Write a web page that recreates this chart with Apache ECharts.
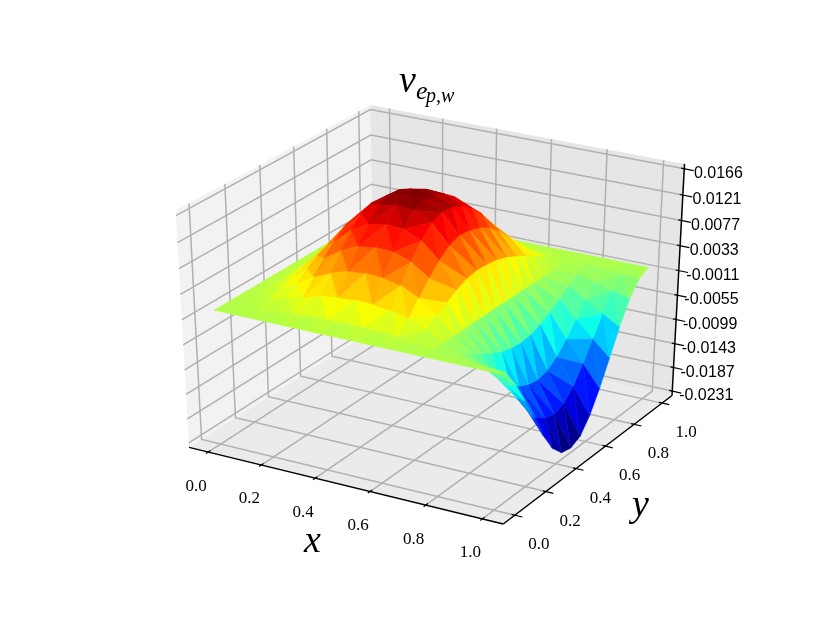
<!DOCTYPE html>
<html>
<head>
<meta charset="utf-8">
<title>v surface</title>
<script src="https://cdn.jsdelivr.net/npm/echarts@6/dist/echarts.min.js"></script>
<style>
html, body { margin: 0; padding: 0; background: #fff; }
#main { width: 830px; height: 623px; }
</style>
</head>
<body>
<div id="main"></div>
<script>
// mesh nodes, both directions
var meshX = [0, 0.0625, 0.125, 0.1875, 0.25, 0.3125, 0.375, 0.4375, 0.5, 0.5625, 0.625, 0.6875, 0.75, 0.8125, 0.875, 0.9375, 1];
var meshY = [0, 0.0625, 0.125, 0.1875, 0.25, 0.3125, 0.375, 0.4375, 0.5, 0.5625, 0.625, 0.6875, 0.75, 0.8125, 0.875, 0.9375, 1];

// surface height in units of 1e-4, one row per meshX
var zUnit = 1e-4;
var surfaceZ = [
    [0, 0, 0, 0, 0, 0, 0, 0, 0, 0, 0, 0, 0, 0, 0, 0, 0],
    [0, 1, 2, 5, 7, 8, 10, 10, 10, 9, 8, 7, 5, 3, 2, 0, 0],
    [0, 3, 9, 16, 23, 30, 34, 36, 35, 33, 30, 25, 19, 12, 6, 1, 0],
    [0, 5, 17, 32, 47, 59, 68, 72, 71, 67, 60, 50, 38, 24, 12, 3, 0],
    [0, 8, 26, 50, 72, 90, 105, 110, 108, 102, 92, 77, 58, 37, 18, 4, 0],
    [0, 10, 34, 63, 91, 115, 133, 140, 138, 130, 118, 98, 74, 48, 22, 6, 0],
    [0, 11, 38, 72, 104, 131, 152, 160, 158, 149, 134, 112, 85, 54, 26, 6, 0],
    [0, 12, 40, 75, 108, 136, 158, 166, 164, 154, 139, 116, 88, 56, 27, 7, 0],
    [0, 11, 39, 73, 106, 134, 155, 163, 161, 152, 137, 114, 86, 55, 26, 7, 0],
    [0, 10, 36, 67, 96, 121, 141, 148, 146, 138, 124, 104, 78, 50, 24, 6, 0],
    [0, 8, 28, 52, 75, 94, 109, 115, 113, 107, 97, 80, 61, 39, 18, 5, 0],
    [0, 4, 15, 28, 40, 51, 59, 62, 61, 58, 52, 43, 33, 21, 10, 2, 0],
    [0, 0, 0, 1, 1, 2, 2, 2, 2, 2, 2, 1, 1, 1, 0, 0, 0],
    [0, -3, -12, -23, -35, -46, -55, -60, -62, -60, -53, -43, -31, -19, -9, -2, 0],
    [0, -6, -23, -45, -68, -90, -109, -118, -122, -117, -104, -84, -61, -38, -18, -5, 0],
    [0, -9, -33, -65, -99, -130, -157, -171, -176, -169, -150, -121, -88, -55, -26, -7, 0],
    [0, -12, -44, -85, -129, -171, -206, -227, -231, -222, -196, -159, -116, -72, -34, -9, 0]
];

var xTicks = [0, 0.2, 0.4, 0.6, 0.8, 1];
var yTicks = [0, 0.2, 0.4, 0.6, 0.8, 1];
var zTicks = ['0.0166', '0.0121', '0.0077', '0.0033', '-0.0011', '-0.0055', '-0.0099', '-0.0143', '-0.0187', '-0.0231'];

var xLim = [-0.05, 1.05];
var yLim = [-0.05, 1.05];
var zLim = [-0.0231, 0.0166];
// panes stick out a little past the limits
var lo = -1 / 48;
var hi = 49 / 48;

var jetStops = [
    [0, [0, 0, 127]], [0.11, [0, 0, 255]], [0.125, [0, 0, 255]], [0.35, [0, 216, 255]], [0.375, [6, 255, 241]],
    [0.64, [246, 255, 0]], [0.66, [255, 246, 0]], [0.89, [255, 18, 0]], [0.91, [255, 0, 0]], [1, [127, 0, 0]]
];

function jet(t) {
    t = Math.min(1, Math.max(0, t));
    for (var i = 1; i < jetStops.length; i++) {
        if (t <= jetStops[i][0]) {
            var a = jetStops[i - 1], b = jetStops[i];
            var k = (t - a[0]) / (b[0] - a[0]);
            return 'rgb(' + [0, 1, 2].map(function (c) {
                return Math.round(a[1][c] + (b[1][c] - a[1][c]) * k);
            }).join(',') + ')';
        }
    }
    return 'rgb(127,0,0)';
}

// same view as elev 30, azim -60, dist 10
var SX = 3482, SY = 2594, CX = 434.4, CY = 307;
function wx(x) { return (x - xLim[0]) / (xLim[1] - xLim[0]); }
function wy(y) { return (y - yLim[0]) / (yLim[1] - yLim[0]); }
function wz(z) { return (z - zLim[0]) / (zLim[1] - zLim[0]); }
function depth(p) {
    return 0.4330127 * (p[0] - 0.5) - 0.75 * (p[1] - 0.5) + 0.5 * (p[2] - 0.5);
}
function project(p) {
    var X = p[0] - 0.5, Y = p[1] - 0.5, Z = p[2] - 0.5;
    var w = 10 - depth(p);
    return [
        CX + SX * (0.8660254 * X + 0.5 * Y) / w,
        CY - SY * (-0.25 * X + 0.4330127 * Y + 0.8660254 * Z) / w
    ];
}

// triangles, diagonals flip every row so the rows read as zigzag bands
var faces = [];
for (var i = 0; i < meshX.length - 1; i++) {
    for (var j = 0; j < meshY.length - 1; j++) {
        var n00 = [i, j], n10 = [i + 1, j], n01 = [i, j + 1], n11 = [i + 1, j + 1];
        if (i % 2 == 0) {
            faces.push([n00, n10, n11], [n00, n11, n01]);
        } else {
            faces.push([n00, n10, n01], [n10, n11, n01]);
        }
    }
}
var faceData = faces.map(function (f) {
    var pts = f.map(function (n) {
        return [wx(meshX[n[0]]), wy(meshY[n[1]]), wz(surfaceZ[n[0]][n[1]] * zUnit)];
    });
    var avg = (surfaceZ[f[0][0]][f[0][1]] + surfaceZ[f[1][0]][f[1][1]] + surfaceZ[f[2][0]][f[2][1]]) / 3 * zUnit;
    var centre = [0, 1, 2].map(function (c) { return (pts[0][c] + pts[1][c] + pts[2][c]) / 3; });
    return {
        d: depth(centre),
        value: pts[0].concat(pts[1], pts[2], [avg])
    };
});
faceData.sort(function (a, b) { return a.d - b.d; });
var avgs = faceData.map(function (f) { return f.value[9]; });
var avgMin = Math.min.apply(null, avgs), avgMax = Math.max.apply(null, avgs);

// panes: points in world coords
var panes = [
    { color: '#f2f2f2', pts: [[lo, lo, lo], [lo, hi, lo], [lo, hi, hi], [lo, lo, hi]] },
    { color: '#e6e6e6', pts: [[lo, hi, lo], [hi, hi, lo], [hi, hi, hi], [lo, hi, hi]] },
    { color: '#ebebeb', pts: [[lo, lo, lo], [hi, lo, lo], [hi, hi, lo], [lo, hi, lo]] }
];

var gridLines = [];
xTicks.forEach(function (t) {
    gridLines.push([[wx(t), lo, lo], [wx(t), hi, lo], [wx(t), hi, hi]]);
});
yTicks.forEach(function (t) {
    gridLines.push([[hi, wy(t), lo], [lo, wy(t), lo], [lo, wy(t), hi]]);
});
zTicks.forEach(function (t) {
    var z = wz(parseFloat(t));
    gridLines.push([[lo, lo, z], [lo, hi, z], [hi, hi, z]]);
});

var axisLines = [
    [[lo, lo, lo], [hi, lo, lo]],
    [[hi, lo, lo], [hi, hi, lo]],
    [[hi, hi, lo], [hi, hi, hi]]
];

// tick marks and the label offset in pixels
var tickMarks = [];
xTicks.forEach(function (t) {
    tickMarks.push({
        line: [[wx(t), lo + 0.012, lo], [wx(t), lo - 0.012, lo]],
        label: t.toFixed(1), dx: -12, dy: 34, serif: true
    });
});
yTicks.forEach(function (t) {
    tickMarks.push({
        line: [[hi - 0.01, wy(t), lo], [hi + 0.024, wy(t), lo]],
        label: t.toFixed(1), dx: 22, dy: 29, serif: true
    });
});
zTicks.forEach(function (t) {
    tickMarks.push({
        line: [[hi - 0.01, hi, wz(parseFloat(t))], [hi + 0.03, hi, wz(parseFloat(t))]],
        label: t, dx: 31, dy: 4, serif: false
    });
});

function polygonItem(pts, api, fill, stroke) {
    return {
        type: 'polygon',
        shape: { points: pts.map(function (p) { return api.coord(project(p)); }) },
        style: { fill: fill, stroke: stroke || null, lineWidth: stroke ? 0.5 : 0 }
    };
}
function lineItem(pts, api, color, width) {
    return {
        type: 'polyline',
        shape: { points: pts.map(function (p) { return api.coord(project(p)); }) },
        style: { fill: null, stroke: color, lineWidth: width }
    };
}

var chart = echarts.init(document.getElementById('main'), null, { renderer: 'canvas' });
var customBase = { type: 'custom', silent: true, animation: false, clip: false, progressive: 0, encode: { x: 0, y: 1 } };

chart.setOption({
    backgroundColor: '#fff',
    animation: false,
    grid: { left: 0, right: 0, top: 0, bottom: 0 },
    xAxis: { type: 'value', min: 0, max: 830, show: false },
    yAxis: { type: 'value', min: 0, max: 623, inverse: true, show: false },
    series: [
        Object.assign({}, customBase, {
            data: panes.map(function (p, idx) { return [idx, 0]; }),
            renderItem: function (params, api) {
                var p = panes[params.dataIndex];
                return polygonItem(p.pts, api, p.color);
            }
        }),
        Object.assign({}, customBase, {
            data: gridLines.map(function (p, idx) { return [idx, 0]; }),
            renderItem: function (params, api) {
                return lineItem(gridLines[params.dataIndex], api, '#b0b0b0', 1.5);
            }
        }),
        Object.assign({}, customBase, {
            data: axisLines.map(function (p, idx) { return [idx, 0]; }),
            renderItem: function (params, api) {
                return lineItem(axisLines[params.dataIndex], api, '#000', 1.5);
            }
        }),
        Object.assign({}, customBase, {
            data: tickMarks.map(function (p, idx) { return [idx, 0]; }),
            renderItem: function (params, api) {
                var t = tickMarks[params.dataIndex];
                var base = api.coord(project(t.line[0]));
                var end = api.coord(project(t.line[1]));
                var mx = (base[0] + end[0]) / 2, my = (base[1] + end[1]) / 2;
                return {
                    type: 'group',
                    children: [
                        lineItem(t.line, api, '#000', 1.2),
                        {
                            type: 'text',
                            x: mx + t.dx,
                            y: my + t.dy,
                            style: {
                                text: t.label,
                                fill: '#000',
                                align: 'center',
                                verticalAlign: 'middle',
                                font: t.serif ? '17px "Liberation Serif"' : '16px "Liberation Sans"'
                            }
                        }
                    ]
                };
            }
        }),
        Object.assign({}, customBase, {
            data: faceData.map(function (f) { return f.value; }),
            dimensions: ['ax', 'ay', 'az', 'bx', 'by', 'bz', 'cx', 'cy', 'cz', 'avg'],
            renderItem: function (params, api) {
                var pts = [
                    [api.value(0), api.value(1), api.value(2)],
                    [api.value(3), api.value(4), api.value(5)],
                    [api.value(6), api.value(7), api.value(8)]
                ];
                var c = jet((api.value(9) - avgMin) / (avgMax - avgMin));
                return polygonItem(pts, api, c, c);
            }
        })
    ],
    graphic: [
        { type: 'text', left: 304, top: 523, style: { text: 'x', font: 'italic 38px "Liberation Serif"', fill: '#000' } },
        { type: 'text', left: 632, top: 487, style: { text: 'y', font: 'italic 38px "Liberation Serif"', fill: '#000' } },
        { type: 'text', left: 399, top: 63, style: { text: 'v', font: 'italic 38px "Liberation Serif"', fill: '#000' } },
        { type: 'text', left: 416, top: 79, style: { text: 'e', font: 'italic 26px "Liberation Serif"', fill: '#000' } },
        { type: 'text', left: 426, top: 87, style: { text: 'p,w', font: 'italic 20px "Liberation Serif"', fill: '#000' } }
    ]
});
</script>
</body>
</html>
